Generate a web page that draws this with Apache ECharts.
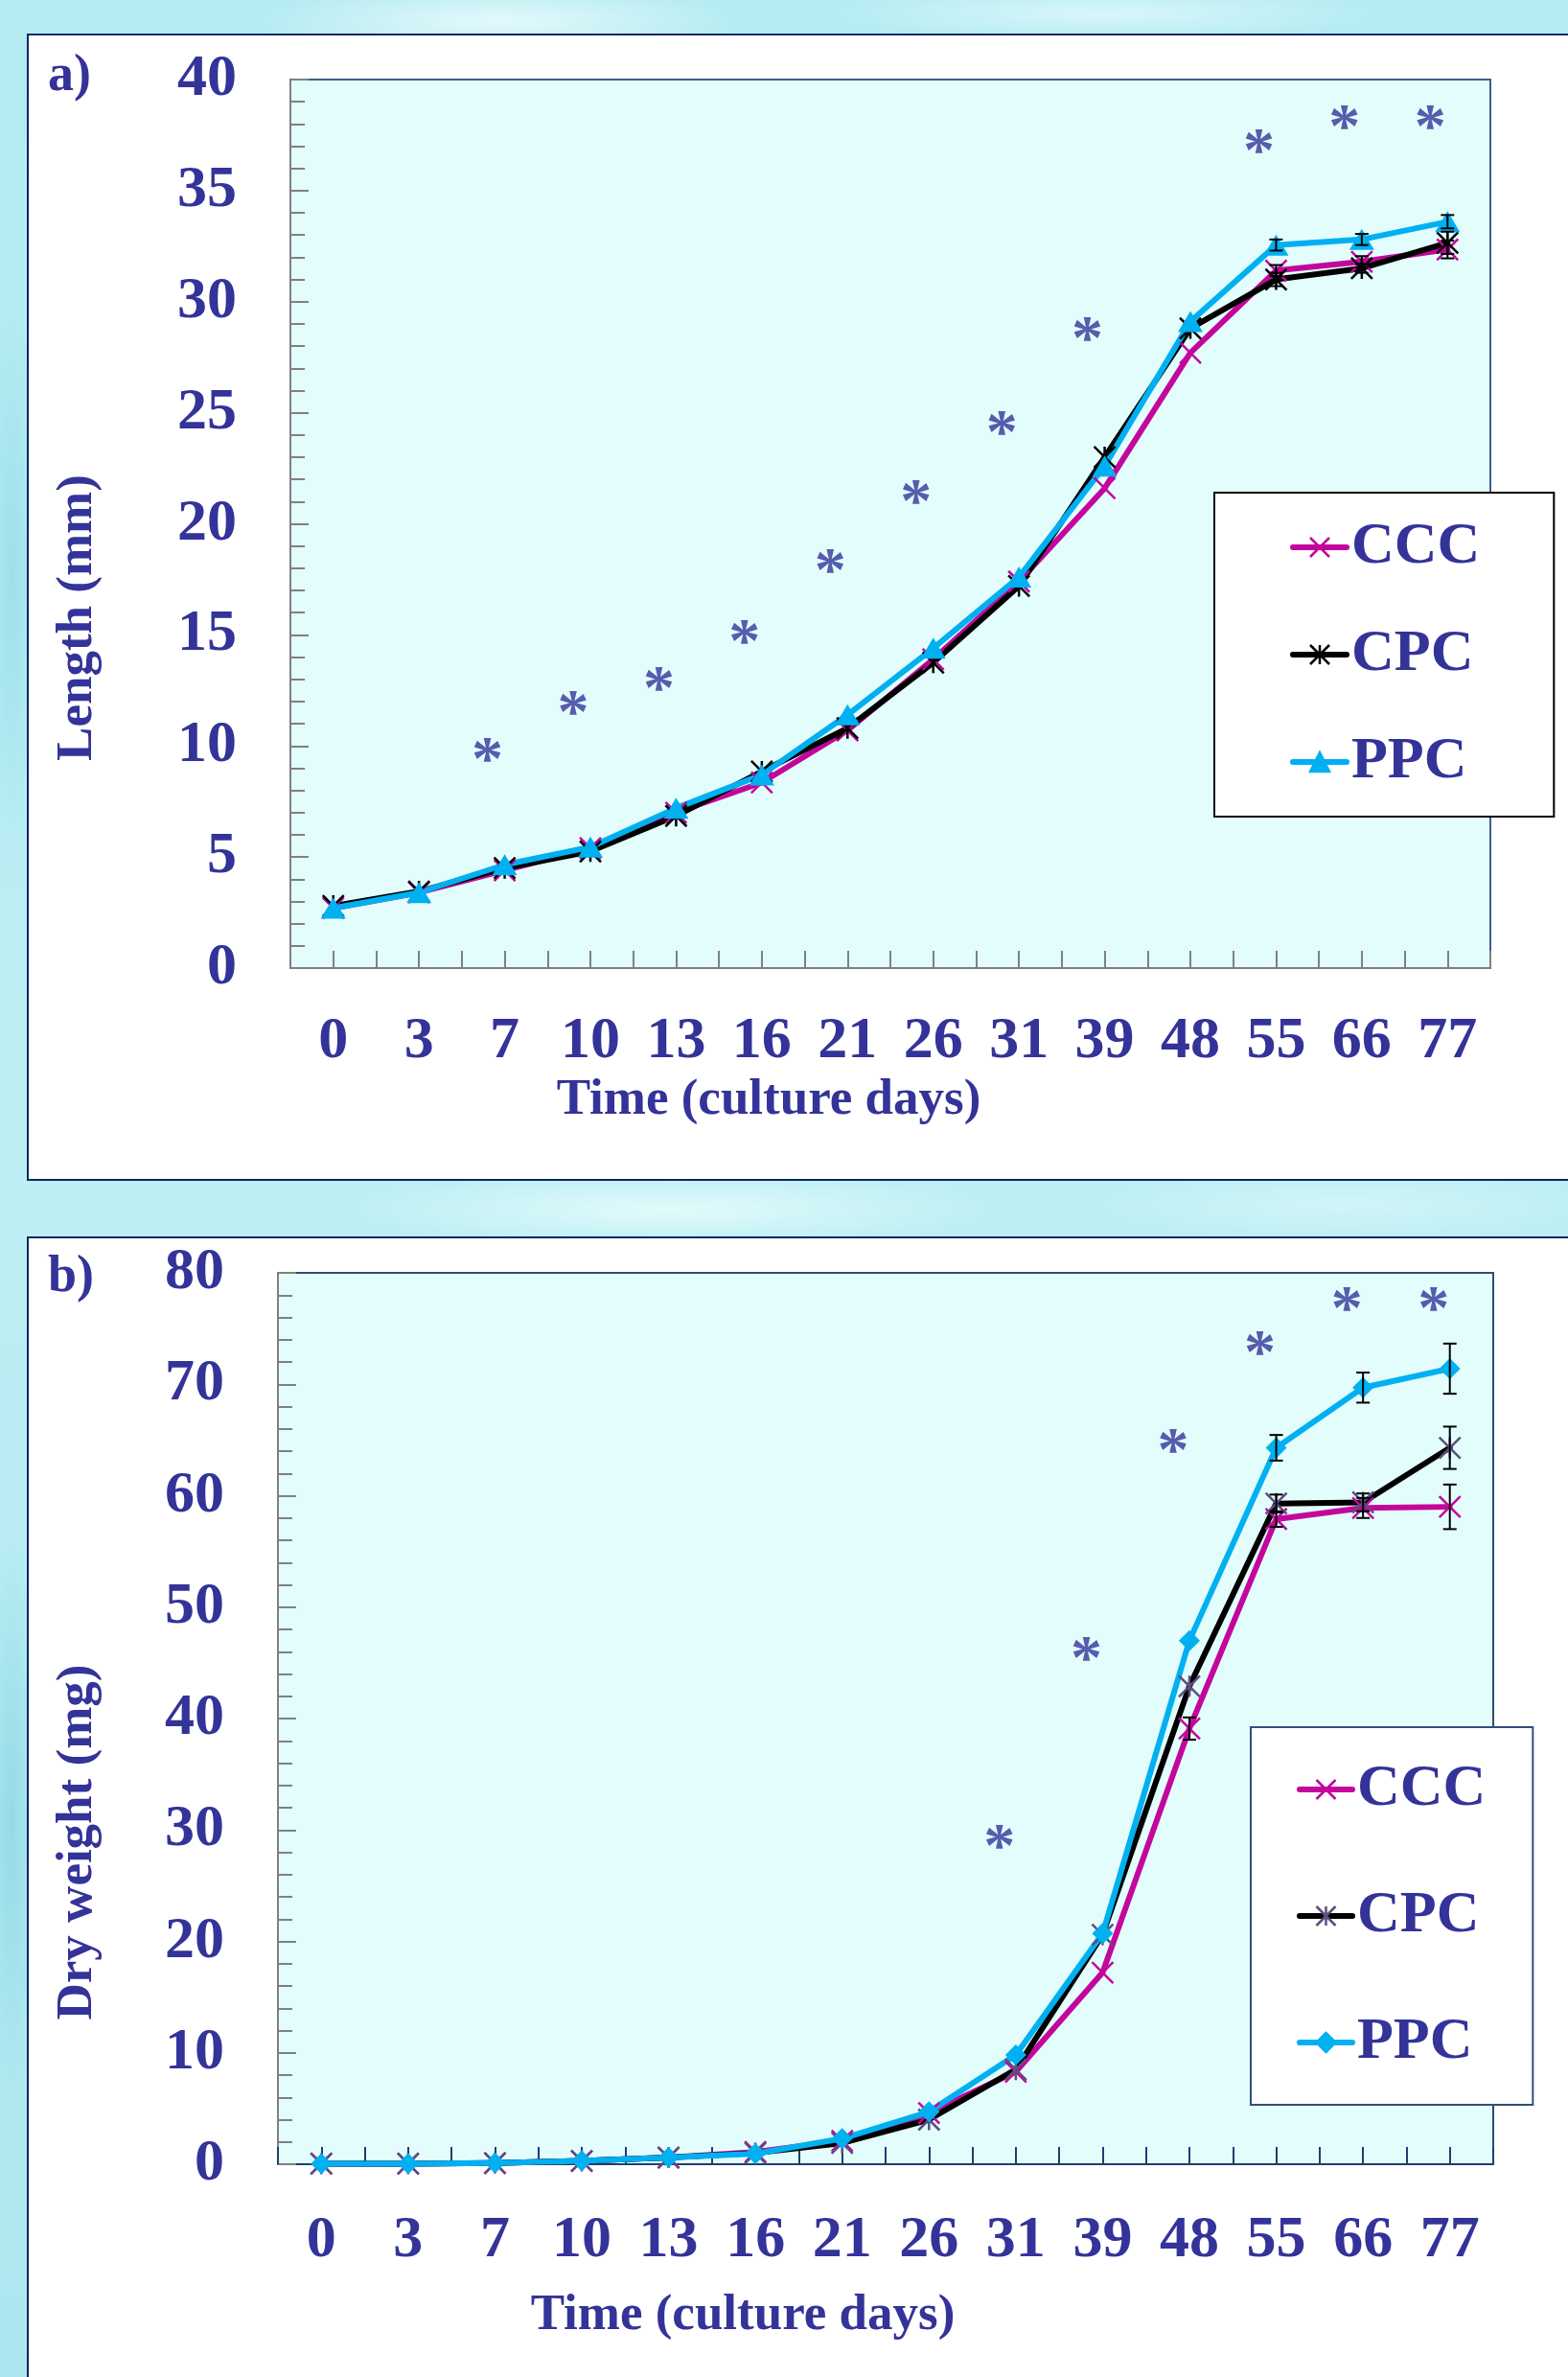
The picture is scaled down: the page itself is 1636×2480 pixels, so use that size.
<!DOCTYPE html>
<html>
<head>
<meta charset="utf-8">
<script src="https://cdn.jsdelivr.net/npm/echarts@6/dist/echarts.min.js"></script>
<style>
  html, body { margin: 0; padding: 0; }
  body {
    width: 1636px; height: 2480px; position: relative; overflow: hidden;
    background:
      radial-gradient(ellipse 260px 40px at 520px 22px, rgba(235,252,252,0.85), rgba(235,252,252,0) 100%),
      radial-gradient(ellipse 300px 30px at 1150px 14px, rgba(225,250,252,0.8), rgba(225,250,252,0) 100%),
      radial-gradient(ellipse 340px 40px at 700px 1262px, rgba(230,252,252,0.9), rgba(230,252,252,0) 100%),
      radial-gradient(ellipse 260px 36px at 1400px 1258px, rgba(215,247,250,0.8), rgba(215,247,250,0) 100%),
      radial-gradient(ellipse 30px 300px at 12px 600px, rgba(150,220,232,0.8), rgba(150,220,232,0) 100%),
      radial-gradient(ellipse 30px 300px at 12px 1900px, rgba(140,215,228,0.8), rgba(140,215,228,0) 100%),
      linear-gradient(180deg, #B4EBF2 0%, #BDEFF4 50%, #AEE6EF 100%);
  }
  .panel { position: absolute; background: #ffffff; border: 2px solid #0D2763; box-sizing: border-box; }
  #pa { left: 28px; top: 35px; width: 1660px; height: 1197px; }
  #pb { left: 28px; top: 1290px; width: 1660px; height: 1250px; }
  #chart { position: absolute; left: 0; top: 0; width: 1636px; height: 2480px; }
</style>
</head>
<body>
<div class="panel" id="pa"></div>
<div class="panel" id="pb"></div>
<div id="chart"></div>
<script>
// ---------- data ----------
const days = ['0', '3', '7', '10', '13', '16', '21', '26', '31', '39', '48', '55', '66', '77'];
const seriesNames = ['CCC', 'CPC', 'PPC'];

const lengthTicks = [0, 5, 10, 15, 20, 25, 30, 35, 40];
const weightTicks = [0, 10, 20, 30, 40, 50, 60, 70, 80];

// a) Length (mm)
const lengthCCC = [2.7, 3.4, 4.4, 5.4, 7.0, 8.35, 10.7, 13.9, 17.4, 21.6, 27.7, 31.4, 31.8, 32.35];
const lengthCPC = [2.8, 3.45, 4.5, 5.25, 6.85, 8.85, 10.8, 13.75, 17.2, 23.0, 28.8, 31.0, 31.5, 32.65];
const lengthPPC = [2.7, 3.4, 4.65, 5.45, 7.2, 8.7, 11.4, 14.4, 17.6, 22.6, 29.1, 32.55, 32.8, 33.6];
const lengthSdCCC = [0, 0, 0, 0, 0, 0, 0, 0, 0, 0, 0, 0.25, 0.25, 0.4];
const lengthSdCPC = [0, 0, 0, 0, 0, 0, 0, 0, 0, 0, 0, 0.3, 0.2, 0.5];
const lengthSdPPC = [0, 0, 0, 0, 0, 0, 0, 0, 0, 0, 0, 0.25, 0.25, 0.3];
const lengthStarDays = ['7', '10', '13', '16', '21', '26', '31', '39', '55', '66', '77'];
const lengthStarY = [9.84, 11.96, 13.02, 15.14, 18.32, 21.45, 24.56, 28.8, 37.25, 38.3, 38.3];

// b) Dry weight (mg)
const weightCCC = [0.05, 0.05, 0.1, 0.3, 0.6, 1.1, 2.1, 4.6, 8.3, 17.2, 39.1, 57.9, 58.9, 59.0];
const weightCPC = [0.05, 0.05, 0.1, 0.3, 0.6, 1.0, 1.9, 4.0, 8.5, 20.6, 42.9, 59.3, 59.4, 64.3];
const weightPPC = [0.05, 0.05, 0.1, 0.3, 0.6, 0.95, 2.3, 4.7, 9.8, 20.7, 47.0, 64.3, 69.7, 71.4];
const weightSdCCC = [0, 0, 0, 0, 0, 0, 0, 0, 0, 0, 1.0, 0.7, 0.9, 2.0];
const weightSdCPC = [0, 0, 0, 0, 0, 0, 0, 0, 0, 0, 0, 0.8, 0.8, 1.9];
const weightSdPPC = [0, 0, 0, 0, 0, 0, 0, 0, 0, 0, 0, 1.15, 1.35, 2.25];
const weightStarDays = ['31', '39', '48', '55', '66', '77'];
const weightStarY = [29.45, 46.28, 64.95, 73.7, 77.7, 77.7];

// ---------- styles ----------
const NAVY = '#333399';
const FONT = "'Liberation Serif', 'Times New Roman', serif";
const MAGENTA = '#C4079C';
const CYAN = '#00B0F0';
const GRAY = '#808080';
const X_PATH = 'path://M0,0L20,20M20,0L0,20';
const STAR_PATH = 'path://M0,0L20,20M20,0L0,20M10,0L10,20';

const chart = echarts.init(document.getElementById('chart'), null, { renderer: 'canvas' });

function textStyle(size) {
  return { color: NAVY, fontFamily: FONT, fontWeight: 'bold', fontSize: size, lineHeight: size };
}

function xAxes(gridIndex, lineColor, labelMargin, nameGap, namePad) {
  return [
    {
      type: 'category', gridIndex, data: days, boundaryGap: true, position: 'bottom',
      axisLine: { lineStyle: { color: lineColor, width: 2 } },
      axisTick: { show: true, inside: true, length: 18, interval: 0, alignWithLabel: false,
                  lineStyle: { color: lineColor, width: 2 } },
      axisLabel: Object.assign({ interval: 0, margin: labelMargin }, textStyle(62)),
      splitLine: { show: false },
      name: 'Time (culture days)', nameLocation: 'middle', nameGap,
      nameTextStyle: Object.assign({ padding: [0, namePad, 0, 0] }, textStyle(53))
    },
    {
      type: 'category', gridIndex, data: days, boundaryGap: true, position: 'bottom',
      axisLine: { show: false },
      axisTick: { show: true, inside: true, length: 18, interval: 0, alignWithLabel: true,
                  lineStyle: { color: lineColor, width: 2 } },
      axisLabel: { show: false }, splitLine: { show: false }
    }
  ];
}

function yAxis(gridIndex, ticks, name, nameGap, namePad) {
  return {
    type: 'value', gridIndex,
    min: ticks[0], max: ticks[ticks.length - 1], interval: ticks[1] - ticks[0],
    axisLine: { show: true, lineStyle: { color: GRAY, width: 2 } },
    axisTick: { show: true, inside: true, length: 19, lineStyle: { color: GRAY, width: 2 } },
    minorTick: { show: true, splitNumber: 5, length: 15, lineStyle: { color: GRAY, width: 2 } },
    axisLabel: Object.assign({ margin: 56 }, textStyle(62)),
    splitLine: { show: false }, minorSplitLine: { show: false },
    name, nameLocation: 'middle', nameRotate: 90, nameGap,
    nameTextStyle: Object.assign({ padding: [0, namePad, 0, 0] }, textStyle(53))
  };
}

function lineSeries(name, data, xi, yi, color, symbol, size, markerColor, bw) {
  return {
    type: 'line', name, data, xAxisIndex: xi, yAxisIndex: yi,
    symbol, symbolSize: size, showSymbol: true, showAllSymbol: true,
    lineStyle: { color, width: 6, cap: 'round', join: 'round' },
    itemStyle: { color: markerColor, borderColor: markerColor, borderWidth: bw },
    emphasis: { disabled: true }, silent: true, z: 3
  };
}

function errorSeries(xi, yi, values, sds) {
  const data = [];
  values.forEach((vals, s) => {
    vals.forEach((v, i) => {
      const sd = sds[s][i];
      if (sd > 0) data.push([i, v - sd, v + sd]);
    });
  });
  return {
    type: 'custom', xAxisIndex: xi, yAxisIndex: yi, data, silent: true, z: 6,
    renderItem: function (params, api) {
      const lo = api.coord([api.value(0), api.value(1)]);
      const hi = api.coord([api.value(0), api.value(2)]);
      const w = 7;
      const st = { stroke: '#000000', lineWidth: 2 };
      return {
        type: 'group',
        children: [
          { type: 'line', shape: { x1: lo[0], y1: lo[1], x2: hi[0], y2: hi[1] }, style: st },
          { type: 'line', shape: { x1: lo[0] - w, y1: lo[1], x2: lo[0] + w, y2: lo[1] }, style: st },
          { type: 'line', shape: { x1: hi[0] - w, y1: hi[1], x2: hi[0] + w, y2: hi[1] }, style: st }
        ]
      };
    }
  };
}

function starSeries(xi, yi, cats, ys, dx) {
  return {
    type: 'scatter', xAxisIndex: xi, yAxisIndex: yi,
    data: cats.map((c, i) => [c, ys[i]]),
    symbol: 'circle', symbolSize: 2, itemStyle: { color: 'rgba(0,0,0,0)' }, silent: true, z: 5,
    label: Object.assign({ show: true, formatter: '*', position: [dx, 15],
                           align: 'center', verticalAlign: 'middle' }, textStyle(66)),
    labelLayout: { hideOverlap: false },
    emphasis: { disabled: true }
  };
}

const legendBase = {
  orient: 'vertical', itemWidth: 56, itemHeight: 25,
  backgroundColor: '#ffffff', borderWidth: 2,
  selectedMode: false, textStyle: textStyle(62),
  itemStyle: { borderWidth: 2.5 },
  lineStyle: { width: 6, cap: 'round' }
};

const option = {
  animation: false,
  backgroundColor: 'transparent',
  title: [
    { text: 'a)', left: 50, top: 53, padding: 0, textStyle: textStyle(54) },
    { text: 'b)', left: 50, top: 1306, padding: 0, textStyle: textStyle(54) }
  ],
  grid: [
    { left: 303, top: 83, width: 1252, height: 927, show: true, backgroundColor: '#E3FDFD',
      borderColor: '#3E5F8A', borderWidth: 2, containLabel: false },
    { left: 290, top: 1328, width: 1268, height: 930, show: true, backgroundColor: '#E3FDFD',
      borderColor: '#2F4F6F', borderWidth: 2, containLabel: false }
  ],
  xAxis: [].concat(
    xAxes(0, GRAY, 46, 112, 254),
    xAxes(1, '#1F3F6F', 49, 132, 298)
  ),
  yAxis: [
    yAxis(0, lengthTicks, 'Length (mm)', 195, 196),
    yAxis(1, weightTicks, 'Dry weight (mg)', 182, 258)
  ],
  legend: [
    Object.assign({}, legendBase, {
      data: seriesNames, left: 1267, top: 514,
      padding: [26, 77, 26, 79], itemGap: 50, borderColor: '#000000'
    }),
    Object.assign({}, legendBase, {
      data: seriesNames.map(n => n + ' (b)'), left: 1305, top: 1802,
      padding: [34, 49, 34, 48], itemGap: 70, itemWidth: 55, borderColor: '#2F4F7F',
      formatter: n => n.replace(' (b)', '')
    })
  ],
  series: [
    lineSeries('CCC', lengthCCC, 0, 0, MAGENTA, X_PATH, 22, MAGENTA, 2.5),
    lineSeries('CPC', lengthCPC, 0, 0, '#000000', STAR_PATH, 22, '#000000', 2.5),
    lineSeries('PPC', lengthPPC, 0, 0, CYAN, 'triangle', [26, 22], CYAN, 0),
    errorSeries(0, 0, [lengthCCC, lengthCPC, lengthPPC], [lengthSdCCC, lengthSdCPC, lengthSdPPC]),
    starSeries(0, 0, lengthStarDays, lengthStarY, -17),

    lineSeries('CCC (b)', weightCCC, 2, 1, MAGENTA, X_PATH, 22, MAGENTA, 2.5),
    lineSeries('CPC (b)', weightCPC, 2, 1, '#000000', STAR_PATH, 22, '#5E4E80', 2.5),
    lineSeries('PPC (b)', weightPPC, 2, 1, CYAN, 'diamond', 22, CYAN, 0),
    errorSeries(2, 1, [weightCCC, weightCPC, weightPPC], [weightSdCCC, weightSdCPC, weightSdPPC]),
    starSeries(2, 1, weightStarDays, weightStarY, -16)
  ]
};
chart.setOption(option);
</script>
</body>
</html>
